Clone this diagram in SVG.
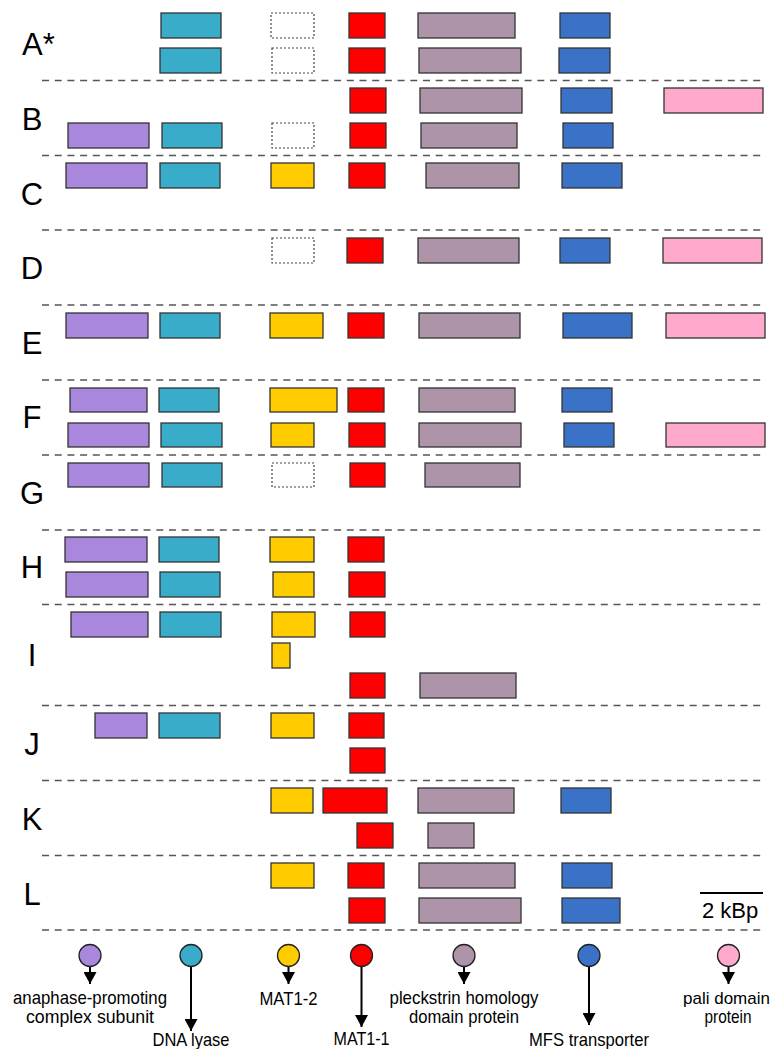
<svg xmlns="http://www.w3.org/2000/svg" width="774" height="1049" viewBox="0 0 774 1049">
<style>
.g rect{stroke:#333;stroke-width:1.3}
.pu{fill:#A987DD}
.te{fill:#38ACC9}
.ye{fill:#FFCC00}
.re{fill:#FF0000}
.ma{fill:#AD94A8}
.bl{fill:#3A72C8}
.pi{fill:#FFAACD}
.g rect.dt{fill:none;stroke:#444;stroke-width:1.2;stroke-dasharray:2 2}
.sep{stroke:#555;stroke-width:1.5;stroke-dasharray:7 5.7;fill:none}
.lab{font-family:"Liberation Sans",Arial,sans-serif;font-size:31px;fill:#000}
.leg{font-family:"Liberation Sans",Arial,sans-serif;font-size:19px;fill:#000;text-anchor:middle}
.leg.sm{font-size:17px}
.dot{stroke:#222;stroke-width:1.3}
.arr{stroke:#000;stroke-width:2;fill:none}
</style>
<defs>
<marker id="ah" markerWidth="12" markerHeight="13" refX="12" refY="6.5" orient="auto" markerUnits="userSpaceOnUse">
<path d="M0,0 L12,6.5 L0,13 Z" fill="#000"/>
</marker>
</defs>
<rect width="774" height="1049" fill="#fff"/>

<g id="separators">
<line class="sep" x1="42" y1="80.5" x2="761" y2="80.5"/>
<line class="sep" x1="42" y1="155.5" x2="761" y2="155.5"/>
<line class="sep" x1="42" y1="230" x2="761" y2="230"/>
<line class="sep" x1="42" y1="305" x2="761" y2="305"/>
<line class="sep" x1="42" y1="380" x2="761" y2="380"/>
<line class="sep" x1="42" y1="455" x2="761" y2="455"/>
<line class="sep" x1="42" y1="530" x2="761" y2="530"/>
<line class="sep" x1="42" y1="604.5" x2="761" y2="604.5"/>
<line class="sep" x1="42" y1="705.5" x2="761" y2="705.5"/>
<line class="sep" x1="42" y1="780.5" x2="761" y2="780.5"/>
<line class="sep" x1="42" y1="855.5" x2="761" y2="855.5"/>
<line class="sep" x1="42" y1="930" x2="761" y2="930"/>
</g>

<g id="strainA" class="g">
<text class="lab" x="22" y="55">A*</text>
<rect class="te" x="161" y="13" width="60" height="25"/>
<rect class="dt" x="271" y="13" width="43" height="25"/>
<rect class="re" x="349" y="13" width="36" height="25"/>
<rect class="ma" x="418" y="13" width="97" height="25"/>
<rect class="bl" x="560" y="13" width="50" height="25"/>
<rect class="te" x="160" y="48" width="61" height="25"/>
<rect class="dt" x="272" y="48" width="42" height="25"/>
<rect class="re" x="349" y="48" width="36" height="25"/>
<rect class="ma" x="419" y="48" width="102" height="25"/>
<rect class="bl" x="559" y="48" width="51" height="25"/>
</g>

<g id="strainB" class="g">
<text class="lab" x="32" y="130" text-anchor="middle">B</text>
<rect class="re" x="350" y="88" width="36" height="25"/>
<rect class="ma" x="420" y="88" width="102" height="25"/>
<rect class="bl" x="561" y="88" width="51" height="25"/>
<rect class="pi" x="664" y="88" width="99" height="25"/>
<rect class="pu" x="68" y="123" width="81" height="25"/>
<rect class="te" x="162" y="123" width="60" height="25"/>
<rect class="dt" x="272" y="123" width="42" height="25"/>
<rect class="re" x="350" y="123" width="36" height="25"/>
<rect class="ma" x="421" y="123" width="96" height="25"/>
<rect class="bl" x="563" y="123" width="50" height="25"/>
</g>

<g id="strainC" class="g">
<text class="lab" x="32" y="205" text-anchor="middle">C</text>
<rect class="pu" x="66" y="163" width="81" height="25"/>
<rect class="te" x="160" y="163" width="60" height="25"/>
<rect class="ye" x="271" y="163" width="43" height="25"/>
<rect class="re" x="349" y="163" width="36" height="25"/>
<rect class="ma" x="426" y="163" width="93" height="25"/>
<rect class="bl" x="562" y="163" width="60" height="25"/>
</g>

<g id="strainD" class="g">
<text class="lab" x="32" y="279" text-anchor="middle">D</text>
<rect class="dt" x="272" y="238" width="42" height="25"/>
<rect class="re" x="347" y="238" width="36" height="25"/>
<rect class="ma" x="418" y="238" width="101" height="25"/>
<rect class="bl" x="560" y="238" width="50" height="25"/>
<rect class="pi" x="663" y="238" width="99" height="25"/>
</g>

<g id="strainE" class="g">
<text class="lab" x="32" y="354" text-anchor="middle">E</text>
<rect class="pu" x="66" y="313" width="82" height="25"/>
<rect class="te" x="160" y="313" width="60" height="25"/>
<rect class="ye" x="270" y="313" width="53" height="25"/>
<rect class="re" x="348" y="313" width="36" height="25"/>
<rect class="ma" x="419" y="313" width="101" height="25"/>
<rect class="bl" x="563" y="313" width="69" height="25"/>
<rect class="pi" x="666" y="313" width="99" height="25"/>
</g>

<g id="strainF" class="g">
<text class="lab" x="32" y="428" text-anchor="middle">F</text>
<rect class="pu" x="70" y="388" width="77" height="24"/>
<rect class="te" x="159" y="388" width="60" height="24"/>
<rect class="ye" x="270" y="388" width="67" height="24"/>
<rect class="re" x="348" y="388" width="36" height="24"/>
<rect class="ma" x="419" y="388" width="96" height="24"/>
<rect class="bl" x="562" y="388" width="50" height="24"/>
<rect class="pu" x="68" y="423" width="81" height="24"/>
<rect class="te" x="161" y="423" width="61" height="24"/>
<rect class="ye" x="271" y="423" width="43" height="24"/>
<rect class="re" x="349" y="423" width="36" height="24"/>
<rect class="ma" x="419" y="423" width="102" height="24"/>
<rect class="bl" x="564" y="423" width="50" height="24"/>
<rect class="pi" x="666" y="423" width="99" height="24"/>
</g>

<g id="strainG" class="g">
<text class="lab" x="32" y="504" text-anchor="middle">G</text>
<rect class="pu" x="68" y="463" width="81" height="24"/>
<rect class="te" x="162" y="463" width="60" height="24"/>
<rect class="dt" x="272" y="463" width="42" height="24"/>
<rect class="re" x="350" y="463" width="35" height="24"/>
<rect class="ma" x="425" y="463" width="95" height="24"/>
</g>

<g id="strainH" class="g">
<text class="lab" x="32" y="578" text-anchor="middle">H</text>
<rect class="pu" x="65" y="537" width="82" height="25"/>
<rect class="te" x="159" y="537" width="60" height="25"/>
<rect class="ye" x="270" y="537" width="44" height="25"/>
<rect class="re" x="348" y="537" width="36" height="25"/>
<rect class="pu" x="66" y="572" width="82" height="25"/>
<rect class="te" x="160" y="572" width="60" height="25"/>
<rect class="ye" x="273" y="572" width="41" height="25"/>
<rect class="re" x="349" y="572" width="36" height="25"/>
</g>

<g id="strainI" class="g">
<text class="lab" x="32" y="666" text-anchor="middle">I</text>
<rect class="pu" x="71" y="612" width="77" height="25"/>
<rect class="te" x="160" y="612" width="61" height="25"/>
<rect class="ye" x="272" y="612" width="43" height="25"/>
<rect class="re" x="350" y="612" width="35" height="25"/>
<rect class="ye" x="272" y="643" width="18" height="25"/>
<rect class="re" x="350" y="673" width="35" height="25"/>
<rect class="ma" x="420" y="673" width="96" height="25"/>
</g>

<g id="strainJ" class="g">
<text class="lab" x="32" y="755" text-anchor="middle">J</text>
<rect class="pu" x="95" y="713" width="52" height="25"/>
<rect class="te" x="159" y="713" width="61" height="25"/>
<rect class="ye" x="271" y="713" width="43" height="25"/>
<rect class="re" x="349" y="713" width="35" height="25"/>
<rect class="re" x="350" y="748" width="35" height="25"/>
</g>

<g id="strainK" class="g">
<text class="lab" x="32" y="830" text-anchor="middle">K</text>
<rect class="ye" x="271" y="788" width="42" height="25"/>
<rect class="re" x="323" y="788" width="64" height="25"/>
<rect class="ma" x="418" y="788" width="96" height="25"/>
<rect class="bl" x="561" y="788" width="50" height="25"/>
<rect class="re" x="357" y="823" width="36" height="25"/>
<rect class="ma" x="428" y="823" width="46" height="25"/>
</g>

<g id="strainL" class="g">
<text class="lab" x="32" y="905" text-anchor="middle">L</text>
<rect class="ye" x="271" y="863" width="43" height="25"/>
<rect class="re" x="348" y="863" width="36" height="25"/>
<rect class="ma" x="419" y="863" width="96" height="25"/>
<rect class="bl" x="562" y="863" width="50" height="25"/>
<rect class="re" x="349" y="898" width="36" height="25"/>
<rect class="ma" x="419" y="898" width="102" height="25"/>
<rect class="bl" x="562" y="898" width="58" height="25"/>
</g>

<g id="scalebar">
<line x1="700" y1="893" x2="763" y2="893" stroke="#000" stroke-width="2.2"/>
<text x="702" y="918" font-family="'Liberation Sans',Arial,sans-serif" font-size="22">2 kBp</text>
</g>

<g id="connectors">
<line class="arr" x1="90" y1="966.5" x2="90" y2="984" marker-end="url(#ah)"/>
<line class="arr" x1="191" y1="966.5" x2="191" y2="1031" marker-end="url(#ah)"/>
<line class="arr" x1="288.5" y1="966.5" x2="288.5" y2="984" marker-end="url(#ah)"/>
<line class="arr" x1="361.5" y1="966.5" x2="361.5" y2="1027" marker-end="url(#ah)"/>
<line class="arr" x1="464" y1="966.5" x2="464" y2="984" marker-end="url(#ah)"/>
<line class="arr" x1="589" y1="966.5" x2="589" y2="1025" marker-end="url(#ah)"/>
<line class="arr" x1="728.5" y1="966.5" x2="728.5" y2="984" marker-end="url(#ah)"/>
</g>

<g id="leg-apc">
<circle class="dot pu" cx="90" cy="955.5" r="11"/>
<text class="leg" x="90" y="1004" textLength="154" lengthAdjust="spacingAndGlyphs">anaphase-promoting</text>
<text class="leg" x="90" y="1023" textLength="128" lengthAdjust="spacingAndGlyphs">complex subunit</text>
</g>
<g id="leg-dnalyase">
<circle class="dot te" cx="191" cy="955.5" r="11"/>
<text class="leg" x="191" y="1046" textLength="77" lengthAdjust="spacingAndGlyphs">DNA lyase</text>
</g>
<g id="leg-mat12">
<circle class="dot ye" cx="288.5" cy="955.5" r="11"/>
<text class="leg" x="288.5" y="1005" textLength="58" lengthAdjust="spacingAndGlyphs">MAT1-2</text>
</g>
<g id="leg-mat11">
<circle class="dot re" cx="361.5" cy="955.5" r="11"/>
<text class="leg" x="361.5" y="1045" textLength="56" lengthAdjust="spacingAndGlyphs">MAT1-1</text>
</g>
<g id="leg-ph">
<circle class="dot ma" cx="464" cy="955.5" r="11"/>
<text class="leg" x="464" y="1004" textLength="149" lengthAdjust="spacingAndGlyphs">pleckstrin homology</text>
<text class="leg" x="464" y="1023" textLength="110" lengthAdjust="spacingAndGlyphs">domain protein</text>
</g>
<g id="leg-mfs">
<circle class="dot bl" cx="589" cy="955.5" r="11"/>
<text class="leg" x="589" y="1046" textLength="120" lengthAdjust="spacingAndGlyphs">MFS transporter</text>
</g>
<g id="leg-pali">
<circle class="dot pi" cx="728.5" cy="955.5" r="11"/>
<text class="leg sm" x="726.5" y="1004">pali domain</text>
<text class="leg" x="728" y="1023" textLength="47" lengthAdjust="spacingAndGlyphs">protein</text>
</g>
</svg>
